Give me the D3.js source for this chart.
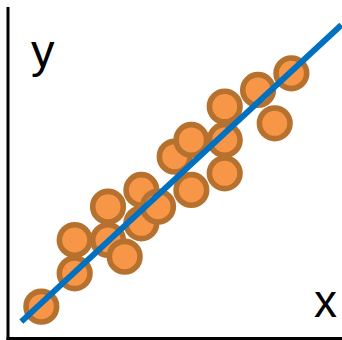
<!DOCTYPE html>
<html>
<head>
<meta charset="utf-8">
<script src="https://cdn.jsdelivr.net/npm/d3@7"></script>
<style>
  html, body { margin: 0; padding: 0; background: #fff; }
  svg { display: block; }
</style>
</head>
<body>
<div id="chart"></div>
<script>
// points (arbitrary units)
var xVals = [2, 4, 4, 6, 6, 7, 8, 8, 9, 10, 11, 11, 13, 13, 13, 15, 16, 17];
var yVals = [2, 4, 6, 6, 8, 5, 7, 9, 8, 11, 9, 12, 12, 10, 14, 15, 13, 16];
// fitted line ends
var lineX = [0.8, 20];
var lineY = [1.1, 18.9];
var axisLabels = ["x", "y"];

var width = 342, height = 340;

var x = d3.scaleLinear().domain([0, 20]).range([8, 341.4]),
    y = d3.scaleLinear().domain([0, 20]).range([340, 6.6]);

var svg = d3.select("#chart").append("svg")
    .attr("width", width)
    .attr("height", height);

var data = xVals.map(function (d, i) { return {x: d, y: yVals[i]}; });

/*axes: just two black lines*/
svg.append("line")
    .attr("x1", x(0)).attr("y1", 7)
    .attr("x2", x(0)).attr("y2", 340)
    .style("stroke", "#000").style("stroke-width", 3);

svg.append("line")
    .attr("x1", x(0) - 1.5).attr("y1", 338.5)
    .attr("x2", width).attr("y2", 338.5)
    .style("stroke", "#000").style("stroke-width", 3);

svg.selectAll(".dot")
    .data(data)
    .enter().append("circle")
    .attr("class", "dot")
    .attr("r", 15.3)
    .attr("cx", function (d) { return x(d.x); })
    .attr("cy", function (d) { return y(d.y); })
    .style("fill", "#F79646")
    .style("stroke", "#B7712F")
    .style("stroke-width", 5.6);

var lineData = lineX.map(function (d, i) { return [d, lineY[i]]; });
svg.append("path")
    .datum(lineData)
    .attr("d", d3.line()
        .x(function (d) { return x(d[0]); })
        .y(function (d) { return y(d[1]); }))
    .style("fill", "none")
    .style("stroke", "#0070C0")
    .style("stroke-width", 6);

// axis letters
svg.append("text")
    .attr("x", 314)
    .attr("y", 317)
    .style("font-family", "Liberation Sans, Arial, sans-serif")
    .style("font-size", "46px")
    .style("fill", "#000")
    .text(axisLabels[0]);

svg.append("text")
    .attr("x", 31)
    .attr("y", 67)
    .style("font-family", "Liberation Sans, Arial, sans-serif")
    .style("font-size", "47px")
    .style("fill", "#000")
    .text(axisLabels[1]);
</script>
</body>
</html>
